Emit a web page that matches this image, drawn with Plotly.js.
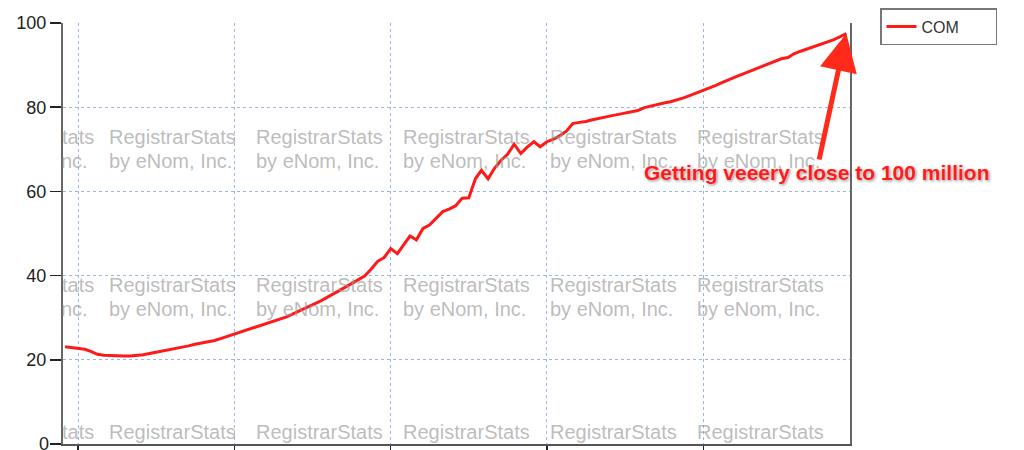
<!DOCTYPE html>
<html>
<head>
<meta charset="utf-8">
<script src="https://cdn.plot.ly/plotly-3.0.1.min.js"></script>
<style>
html,body{margin:0;padding:0;background:#fff;}
#chart{width:1024px;height:450px;}
</style>
</head>
<body>
<div id="chart"></div>
<script>
// Monthly .COM registrations (millions)
var months = [
"2001-11","2001-12",
"2002-01","2002-02","2002-03","2002-04","2002-05","2002-06","2002-07","2002-08","2002-09","2002-10","2002-11","2002-12",
"2003-01","2003-02","2003-03","2003-04","2003-05","2003-06","2003-07","2003-08","2003-09","2003-10","2003-11","2003-12",
"2004-01","2004-02","2004-03","2004-04","2004-05","2004-06","2004-07","2004-08","2004-09","2004-10","2004-11","2004-12",
"2005-01","2005-02","2005-03","2005-04","2005-05","2005-06","2005-07","2005-08","2005-09","2005-10","2005-11","2005-12",
"2006-01","2006-02","2006-03","2006-04","2006-05","2006-06","2006-07","2006-08","2006-09","2006-10","2006-11","2006-12",
"2007-01","2007-02","2007-03","2007-04","2007-05","2007-06","2007-07","2007-08","2007-09","2007-10","2007-11","2007-12",
"2008-01","2008-02","2008-03","2008-04","2008-05","2008-06","2008-07","2008-08","2008-09","2008-10","2008-11","2008-12",
"2009-01","2009-02","2009-03","2009-04","2009-05","2009-06","2009-07","2009-08","2009-09","2009-10","2009-11","2009-12",
"2010-01","2010-02","2010-03","2010-04","2010-05","2010-06","2010-07","2010-08","2010-09","2010-10","2010-11","2010-12",
"2011-01","2011-02","2011-03","2011-04","2011-05","2011-06","2011-07","2011-08","2011-09","2011-10","2011-11"
];
var comValues = [
23.1,22.9,
22.7,22.5,22.0,21.3,21.1,21.0,21.0,20.9,20.9,21.0,21.2,21.5,
21.8,22.0,22.3,22.6,22.9,23.3,23.7,24.0,24.3,24.6,25.1,25.6,
26.1,26.6,27.1,27.5,28.0,28.6,29.1,29.5,30.2,30.9,31.6,32.3,
33.0,33.8,34.6,35.4,36.3,37.2,38.1,39.0,39.9,41.5,43.4,44.3,
46.4,45.2,47.2,49.4,48.5,51.2,52.0,53.6,55.2,55.8,56.6,58.4,
58.5,63.0,65.0,63.0,65.5,67.4,68.8,71.2,69.0,70.5,71.8,70.6,
71.8,72.4,73.2,74.3,76.1,76.4,76.6,77.0,77.4,77.7,78.0,78.3,
78.6,78.8,79.2,79.9,80.3,80.6,81.0,81.3,81.7,82.2,82.8,83.4,
83.9,84.5,85.2,85.9,86.6,87.2,87.8,88.4,89.0,89.6,90.3,90.9,
91.5,91.8,92.7,93.3,93.8,94.4,94.9,95.5,96.0,96.7,97.5
];
var seriesName = "COM";
var yTicks = [0,20,40,60,80,100];
var calloutText = "Getting veeery close to 100 million";
var watermarkTop = "RegistrarStats";
var watermarkBottom = "by eNom, Inc.";

var plotL = 63, plotW = 787, plotTop = 23, plotB = 444;
var plotH = plotB - plotTop;
function px2x(p){return (p-plotL)/plotW;}
function py2y(p){return (plotB-p)/plotH;}

// watermark annotations (decorative)
var wm = [];
var colPx = [108,255,402,549,696];
var wmFont = {family:"Liberation Sans, Arial, sans-serif", size:20, color:"rgba(150,150,150,0.65)"};
var rows = [{t:137,b:161},{t:285,b:309},{t:432,b:null}];
rows.forEach(function(r){
  colPx.forEach(function(c){
    wm.push({xref:"paper",yref:"paper",x:px2x(c),y:py2y(r.t),xanchor:"left",yanchor:"middle",borderpad:0,
      text:watermarkTop,showarrow:false,font:wmFont});
    if(r.b!==null) wm.push({xref:"paper",yref:"paper",x:px2x(c),y:py2y(r.b),xanchor:"left",yanchor:"middle",borderpad:0,
      text:watermarkBottom,showarrow:false,font:wmFont});
  });
  wm.push({xref:"paper",yref:"paper",x:px2x(61),y:py2y(r.t),xanchor:"left",yanchor:"middle",borderpad:0,
    text:watermarkTop.slice(-4),showarrow:false,font:wmFont});
  if(r.b!==null) wm.push({xref:"paper",yref:"paper",x:px2x(60),y:py2y(r.b),xanchor:"left",yanchor:"middle",borderpad:0,
    text:watermarkBottom.slice(-3),showarrow:false,font:wmFont});
});

// "0" tick label (Plotly drops it at the very bottom edge)
var zeroLabel = {xref:"paper",yref:"paper",x:px2x(50),y:0,xanchor:"right",yanchor:"middle",borderpad:0,
  text:String(yTicks[0]),showarrow:false,font:{family:"Liberation Sans, Arial, sans-serif",size:18,color:"#222"}};

var callout = {
  xref:"x", yref:"y", x:months[months.length-1], y:comValues[comValues.length-1],
  ax:-30, ay:139, axref:"pixel", ayref:"pixel",
  text:"<b>"+calloutText+"</b>", showarrow:true,
  arrowhead:2, arrowsize:1.5, arrowwidth:5, arrowcolor:"#ff2a1a", standoff:0,
  font:{family:"Liberation Sans, Arial, sans-serif", size:21, color:"#ff1a1a",
        shadow:"0px 0px 2px #ffffff, 1px 1px 3px rgba(0,0,0,0.55)"}
};

var trace = {
  x: months, y: comValues, type:"scatter", mode:"lines", name:seriesName + "\u00a0\u00a0\u00a0\u00a0\u00a0\u00a0\u00a0",
  line:{color:"#ff1a1a", width:3}
};

var layout = {
  width:1024, height:450,
  margin:{l:63, r:174, t:23, b:6, pad:0},
  paper_bgcolor:"#ffffff", plot_bgcolor:"#ffffff",
  font:{family:"Liberation Sans, Arial, sans-serif", color:"#222"},
  showlegend:true,
  legend:{x:px2x(880), y:py2y(8), xanchor:"left", yanchor:"top", bgcolor:"#ffffff",
          bordercolor:"#777", borderwidth:1.5, font:{size:16, color:"#333"}},
  xaxis:{type:"date", range:["2001-10-22","2011-11-18"], tick0:"2002-01-01", dtick:"M24",
         showticklabels:false, ticks:"outside", ticklen:7, tickcolor:"#222", tickwidth:1.5,
         showgrid:true, gridcolor:"#9db5e0", griddash:"3px,3px", gridwidth:1,
         showline:true, linecolor:"#555", linewidth:2, zeroline:false, fixedrange:true},
  yaxis:{range:[0,100], tickvals:yTicks, ticktext:yTicks.map(String),
         ticks:"outside", ticklen:11, tickcolor:"#222", tickwidth:1.5,
         tickfont:{size:18, color:"#222"},
         showgrid:true, gridcolor:"#9db5e0", griddash:"3px,3px", gridwidth:1,
         showline:true, linecolor:"#666", linewidth:2, mirror:true, zeroline:false, fixedrange:true},
  annotations: wm.concat([zeroLabel, callout])
};

Plotly.newPlot("chart",[trace],layout,{displayModeBar:false, staticPlot:true});
</script>
</body>
</html>
